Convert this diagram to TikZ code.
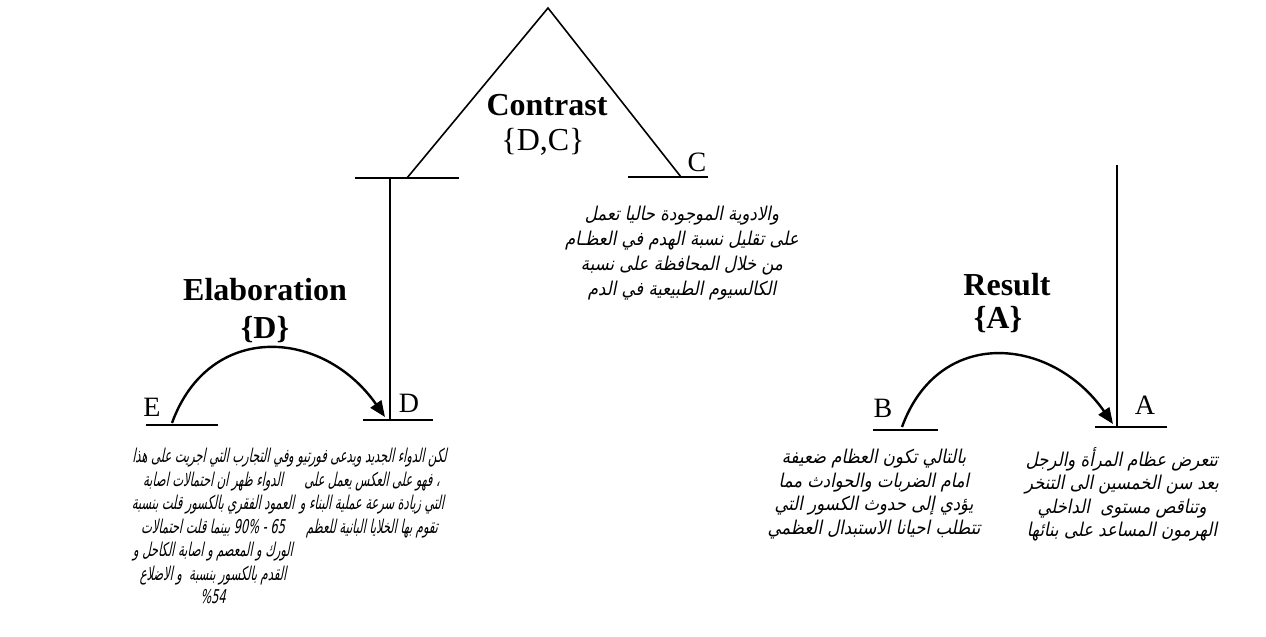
\documentclass[tikz,border=0pt]{standalone}
\usepackage{fontspec}
\setmainfont{Liberation Serif}
\newfontfamily\arabicfont[Script=Arabic,FakeSlant=0.2,FakeStretch=0.87]{DejaVu Sans}
\newfontfamily\arabicnarrow[Script=Arabic,FakeSlant=0.2,FakeStretch=0.6]{DejaVu Sans}
\TeXXeTstate=1
\usetikzlibrary{arrows.meta}

\begin{document}
\begin{tikzpicture}[x=0.5pt,y=0.5pt,
  >={Triangle[length=8pt,width=6.5pt]},
  bar/.style={line width=1pt},
  leg/.style={line width=.8pt},
  arc/.style={->,line width=1.2pt,shorten >=0pt},
  letter/.style={font=\fontsize{14}{14}\selectfont,inner sep=0pt},
  relname/.style={font=\fontsize{16}{18}\selectfont\bfseries,align=center,inner sep=0pt},
  relset/.style={font=\fontsize{16}{18}\selectfont,inner sep=0pt},
  arabic/.style={font=\arabicfont\fontsize{9.5}{11.75}\selectfont,align=center,anchor=north,inner sep=0pt},
  arabicn/.style={arabic,font=\arabicnarrow\fontsize{9.5}{11.75}\selectfont}
]
\useasboundingbox (0,0) rectangle (1266,637);
% bars of the five segments and the joints of the tree
\coordinate (top) at (548,629);
\coordinate (dcL) at (355,459); \coordinate (dcR) at (459,459); \coordinate (dcJ) at (407,459);
\coordinate (cL) at (628,460); \coordinate (cR) at (708,460); \coordinate (cJ) at (681,460);
\coordinate (dTop) at (390,459); \coordinate (dL) at (363,217); \coordinate (dR) at (433,217); \coordinate (dJ) at (390,217);
\coordinate (eL) at (146,212); \coordinate (eR) at (218,212);
\coordinate (aTop) at (1117,472); \coordinate (aL) at (1095,210); \coordinate (aR) at (1167,210); \coordinate (aJ) at (1117,210);
\coordinate (bL) at (873,207); \coordinate (bR) at (938,207);
\coordinate (eArc) at (172,214); \coordinate (dArc) at (385,220);
\coordinate (bArc) at (902,210); \coordinate (aArc) at (1113,213);

\draw[bar] (dcL) -- (dcR);
\draw[bar] (cL) -- (cR);
\draw[bar] (dL) -- (dR);
\draw[bar] (eL) -- (eR);
\draw[bar] (aL) -- (aR);
\draw[bar] (bL) -- (bR);
\draw[leg] (dcJ) -- (top) -- (cJ);
\draw[leg] (dTop) -- (dJ);
\draw[leg] (aTop) -- (aJ);
\draw[arc] (eArc) to[out=70,in=125,looseness=1.3] (dArc);
\draw[arc] (bArc) to[out=70,in=125,looseness=1.3] (aArc);

\node[letter] (labE) at (152,230) {E};
\node[letter] (labD) at (409,234) {D};
\node[letter] (labC) at (697,475) {C};
\node[letter] (labB) at (883,229) {B};
\node[letter] (labA) at (1145,232) {A};

\node[relname] (contrast) at (547,532) {Contrast};
\node[relset] (contrastSet) at (543,495) {\{D,C\}};
\node[relname] (elab) at (265,347) {Elaboration};
\node[relname] (elabSet) at (265,307) {\{D\}};
\node[relname] (result) at (1007,352) {Result};
\node[relname] (resultSet) at (998,317) {\{A\}};

\node[arabicn] (textE) at (213,189) {\beginR وفي التجارب التي اجريت على هذا\endR\\
 \beginR الدواء ظهر ان احتمالات اصابة\endR\\
 \beginR العمود الفقري بالكسور قلت بنسبة\endR\\
 \beginR 65 - 90\% بينما قلت احتمالات\endR\\
 \beginR الورك و المعصم و اصابة الكاحل و\endR\\
 \beginR القدم بالكسور بنسبة \ و الاضلاع\endR\\
 \beginL\%54\endL};
\node[arabicn] (textD) at (372,189) {\beginR لكن الدواء الجديد ويدعى فورتيو\endR\\
 \beginR ، فهو على العكس يعمل على\endR\\
 \beginR التي زيادة سرعة عملية البناء و\endR\\
 \beginR تقوم بها الخلايا البانية للعظم\endR};
\node[arabic,font=\arabicfont\fontsize{9.5}{12.4}\selectfont] (textC) at (682,431) {\beginR والادوية الموجودة حاليا تعمل\endR\\
 \beginR على تقليل نسبة الهدم في العظـام\endR\\
 \beginR من خلال المحافظة على نسبة\endR\\
 \beginR الكالسيوم الطبيعية في الدم\endR};
\node[arabic] (textB) at (874,188) {\beginR بالتالي تكون العظام ضعيفة\endR\\
 \beginR امام الضربات والحوادث مما\endR\\
 \beginR يؤدي إلى حدوث الكسور التي\endR\\
 \beginR تتطلب احيانا الاستبدال العظمي\endR};
\node[arabic] (textA) at (1122,190) {\beginR تتعرض عظام المرأة والرجل\endR\\
 \beginR بعد سن الخمسين الى التنخر\endR\\
 \beginR وتناقص مستوى \ الداخلي\endR\\
 \beginR الهرمون المساعد على بنائها\endR};
\end{tikzpicture}
\end{document}
